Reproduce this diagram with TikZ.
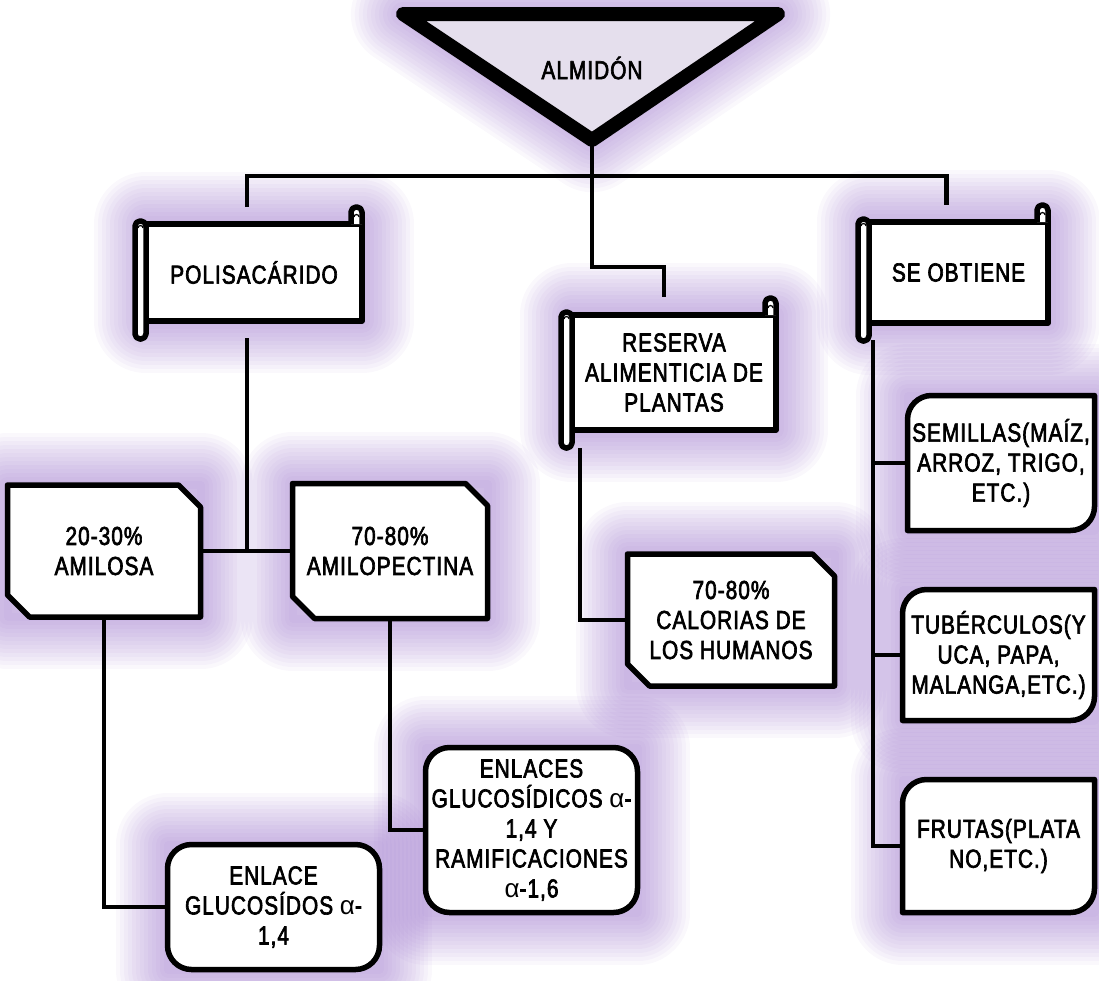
\documentclass[tikz,border=0pt]{standalone}
\usepackage{fontspec}
\setmainfont{Liberation Sans}[FakeStretch=0.80, FakeBold=2.5, LetterSpace=4]
\newfontfamily\alphafont{Liberation Sans}
\usepackage{tikz}

\definecolor{halocol}{RGB}{150,110,200}
\definecolor{trifill}{RGB}{229,223,237}

\pgfdeclarelayer{glow}
\pgfdeclarelayer{lines}
\pgfsetlayers{glow,lines,main}

\newcommand{\al}{{\alphafont α}}
\newcommand{\scrollrolls}[1]{%
  \draw[boxline, rounded corners=5pt] ([xshift=-11pt,yshift=3pt]#1.north west) rectangle ([yshift=-18pt]#1.south west);
  \draw[boxline, rounded corners=5pt] ([xshift=-11pt]#1.north east) -- ([xshift=-11pt,yshift=17pt]#1.north east)
    -- ([yshift=17pt]#1.north east) -- (#1.north east);
  \draw[line width=1.2pt] ([xshift=-8pt,yshift=7pt]#1.north east) arc[start angle=180,end angle=0,radius=2.5pt];
  \draw[line width=1.2pt] ([xshift=-8pt,yshift=-4pt]#1.north west) arc[start angle=180,end angle=0,radius=2.5pt];}
\newcommand{\snipbox}[1]{%
  \draw[boxline] (#1.north west) -- ([xshift=-22pt]#1.north east) -- ([yshift=-22pt]#1.north east)
    -- (#1.south east) -- ([xshift=22pt]#1.south west) -- ([yshift=22pt]#1.south west) -- cycle;}
\newcommand{\roundbox}[1]{%
  \draw[boxline, rounded corners=24pt] (#1.north west) rectangle (#1.south east);}
\newcommand{\diagbox}[1]{%
  \draw[boxline] ([yshift=-24pt]#1.north west) arc[start angle=180,end angle=90,radius=24pt]
    -- (#1.north east) -- ([yshift=24pt]#1.south east) arc[start angle=0,end angle=-90,radius=24pt]
    -- (#1.south west) -- cycle;}

\begin{document}
\begin{tikzpicture}[x=1pt,y=1pt,
  txt/.style={inner sep=0pt, outer sep=0pt, align=center, font=\fontsize{26}{30}\selectfont},
  boxline/.style={draw, fill=white, line width=5.5pt, line join=round},
  scrollbody/.style={txt, boxline},
  link/.style={draw, line width=4.5pt},
  halo/.style={draw=halocol, line width=#1, opacity=.05, line join=round}]
\useasboundingbox (0,0) rectangle (1099,-980);

\coordinate (tl) at (403,-14);
\coordinate (tr) at (778,-14);
\coordinate (apex) at (592,-140);
\node[txt] (almidon) at (592,-68) {ALMIDÓN};

\node[scrollbody, minimum width=216pt, minimum height=97pt] (poli) at (254,-272.5) {POLISACÁRIDO};
\node[scrollbody, minimum width=204pt, minimum height=115pt] (res) at (674,-372.5) {RESERVA\\ALIMENTICIA DE\\PLANTAS};
\node[scrollbody, minimum width=179pt, minimum height=101pt] (obt) at (958.5,-272.5) {SE OBTIENE};
\scrollrolls{poli}
\scrollrolls{res}
\scrollrolls{obt}

\node[txt, minimum width=193pt, minimum height=132pt] (amilosa) at (104,-551) {20-30\%\\AMILOSA};
\node[txt, minimum width=195pt, minimum height=135pt] (amilopectina) at (390,-551) {70-80\%\\AMILOPECTINA};
\node[txt, minimum width=207pt, minimum height=132pt] (calorias) at (731,-620) {70-80\%\\CALORIAS DE\\LOS HUMANOS};
\node[txt, minimum width=212pt, minimum height=125pt] (enlace) at (273.5,-907) {ENLACE\\GLUCOSÍDOS \al-\\1,4};
\node[txt, minimum width=212pt, minimum height=165pt] (enlaces) at (531.5,-830) {ENLACES\\GLUCOSÍDICOS \al-\\1,4 Y\\RAMIFICACIONES\\\al-1,6};
\node[txt, minimum width=187pt, minimum height=135pt] (semillas) at (1001,-463) {SEMILLAS(MAÍZ,\\ARROZ, TRIGO,\\ETC.)};
\node[txt, minimum width=192pt, minimum height=131pt] (tuber) at (998.5,-655) {TUBÉRCULOS(Y\\UCA, PAPA,\\MALANGA,ETC.)};
\node[txt, minimum width=192pt, minimum height=133pt] (frutas) at (998.5,-846) {FRUTAS(PLATA\\NO,ETC.)};

\begin{pgfonlayer}{lines}
\draw[link] (apex) -- ++(0,-36) coordinate (hub);
\draw[link] ([xshift=-7pt,yshift=17pt]poli.north) |- (hub) -| ([xshift=-12pt,yshift=17pt]obt.north);
\draw[link] (hub) -- ++(0,-91) -| ([xshift=-10pt,yshift=18pt]res.north);
\draw[link] ([xshift=-7pt,yshift=-17pt]poli.south) |- (amilosa.east);
\draw[link] (amilosa.east) -- (amilopectina.west);
\draw[link] (amilosa.south) |- (enlace.west);
\draw[link] (amilopectina.south) |- (enlaces.west);
\draw[link] ([xshift=8pt,yshift=-18pt]res.south west) |- (calorias.west);
\coordinate (trunk) at ([xshift=4pt,yshift=-17pt]obt.south west);
\draw[link] (trunk) |- (frutas.west);
\draw[link] (trunk |- semillas.west) -- (semillas.west);
\draw[link] (trunk |- tuber.west) -- (tuber.west);
\draw[fill=trifill, line width=14pt, line join=round] (tl) -- (tr) -- (apex) -- cycle;
\snipbox{amilosa}
\snipbox{amilopectina}
\snipbox{calorias}
\roundbox{enlace}
\roundbox{enlaces}
\diagbox{semillas}
\diagbox{tuber}
\diagbox{frutas}
\end{pgfonlayer}

\begin{pgfonlayer}{glow}
\foreach \w in {8,16,...,104} {
  \draw[halo=\w pt] (tl) -- (tr) -- (apex) -- cycle;
  \foreach \n in {poli,res,obt,amilosa,amilopectina,calorias,enlace,enlaces,semillas,tuber,frutas}
    \draw[halo=\w pt] (\n.north west) rectangle (\n.south east);
}
\end{pgfonlayer}
\end{tikzpicture}
\end{document}
